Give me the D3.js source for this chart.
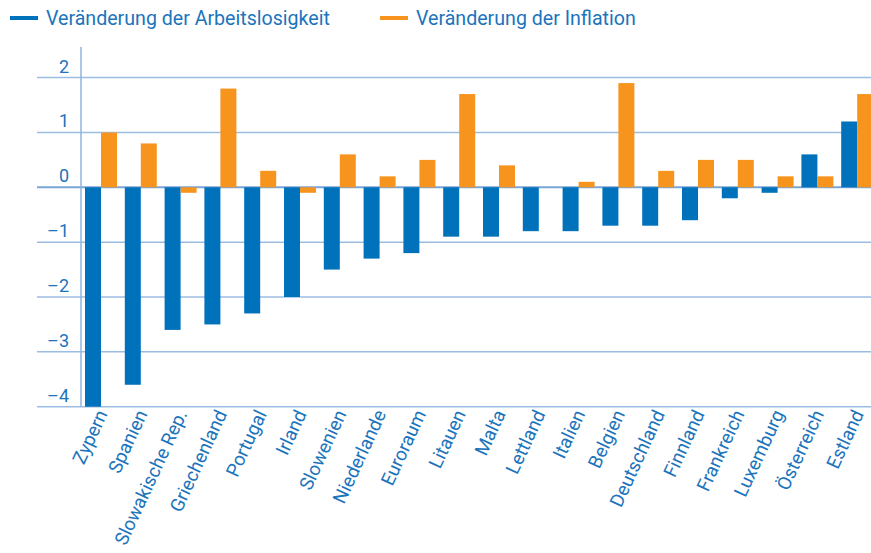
<!DOCTYPE html>
<html lang="de">
<head>
    <meta charset="UTF-8">
    <title>Arbeitslosigkeit und Inflation</title>
    <script src="https://d3js.org/d3.v7.min.js"></script>
    <style>
        body { margin: 0; background: #fff; font-family: Roboto, "Noto Sans", sans-serif; }
        svg text { fill: #1b74bc; }
    </style>
</head>
<body>
    <div id="chart"></div>
    <script>
        // Data
        const countries = ["Zypern", "Spanien", "Slowakische Rep.", "Griechenland", "Portugal", "Irland",
            "Slowenien", "Niederlande", "Euroraum", "Litauen", "Malta", "Lettland", "Italien", "Belgien",
            "Deutschland", "Finnland", "Frankreich", "Luxemburg", "Österreich", "Estland"];
        const unemployment = [-4.0, -3.6, -2.6, -2.5, -2.3, -2.0, -1.5, -1.3, -1.2, -0.9, -0.9, -0.8, -0.8, -0.7,
            -0.7, -0.6, -0.2, -0.1, 0.6, 1.2];
        const inflation = [1.0, 0.8, -0.1, 1.8, 0.3, -0.1, 0.6, 0.2, 0.5, 1.7, 0.4, 0.0, 0.1, 1.9,
            0.3, 0.5, 0.5, 0.2, 0.2, 1.7];
        const seriesNames = ["Veränderung der Arbeitslosigkeit", "Veränderung der Inflation"];
        const yTicks = [-4, -3, -2, -1, 0, 1, 2];

        const colors = ["#0071bb", "#f7941e"];
        const width = 871, height = 553;
        const step = 39.8;

        const rows = countries.map((c, i) => ({ name: c, values: [unemployment[i], inflation[i]] }));

        const svg = d3.select("#chart").append("svg")
            .attr("width", width)
            .attr("height", height);

        const x = d3.scaleBand()
            .domain(countries)
            .range([81.1, 81.1 + step * countries.length])
            .paddingInner(7.8 / step)
            .paddingOuter(3.9 / step);

        const xs = d3.scaleBand()
            .domain([0, 1])
            .range([0, x.bandwidth()]);

        const y = d3.scaleLinear()
            .domain([-4, 2])
            .range([406.7, 77.6]);

        // gridlines
        svg.append("g")
            .selectAll("line")
            .data(yTicks)
            .join("line")
            .attr("x1", 37)
            .attr("x2", width)
            .attr("y1", d => y(d))
            .attr("y2", d => y(d))
            .attr("stroke", d => d === 0 ? "#78a6d6" : "#9cbde2")
            .attr("stroke-width", d => d === 0 ? 2 : 1.5);

        // y labels
        svg.append("g")
            .selectAll("text")
            .data(yTicks)
            .join("text")
            .attr("x", 69)
            .attr("y", d => y(d) - 5)
            .attr("text-anchor", "end")
            .style("font-size", "18px")
            .text(d => d < 0 ? "\u2013" + Math.abs(d) : d);

        // vertical axis line
        svg.append("line")
            .attr("x1", 81).attr("x2", 81)
            .attr("y1", 47).attr("y2", y(-4))
            .attr("stroke", "#8fb5df")
            .attr("stroke-width", 1.5);

        // bars
        const groups = svg.append("g")
            .selectAll("g")
            .data(rows)
            .join("g")
            .attr("transform", d => `translate(${x(d.name)},0)`);

        groups.selectAll("rect")
            .data(d => d.values.map((v, i) => ({ v, i })))
            .join("rect")
            .attr("x", d => xs(d.i))
            .attr("width", xs.bandwidth())
            .attr("y", d => y(Math.max(0, d.v)))
            .attr("height", d => Math.abs(y(d.v) - y(0)))
            .attr("fill", d => colors[d.i]);

        // x labels
        svg.append("g")
            .selectAll("text")
            .data(countries)
            .join("text")
            .attr("transform", d => `translate(${x(d) + x.bandwidth() / 2 + 1},${411}) rotate(-65)`)
            .attr("text-anchor", "end")
            .attr("dy", "0.35em")
            .style("font-size", "18.8px")
            .text(d => d);

        // legend
        const legend = svg.append("g");
        const legendX = [10, 380];
        seriesNames.forEach((name, i) => {
            legend.append("rect")
                .attr("x", legendX[i])
                .attr("y", 16)
                .attr("width", 28)
                .attr("height", 4)
                .attr("fill", colors[i]);
            legend.append("text")
                .attr("x", legendX[i] + 36)
                .attr("y", 25)
                .style("font-size", "19.6px")
                .text(name);
        });
    </script>
</body>
</html>
